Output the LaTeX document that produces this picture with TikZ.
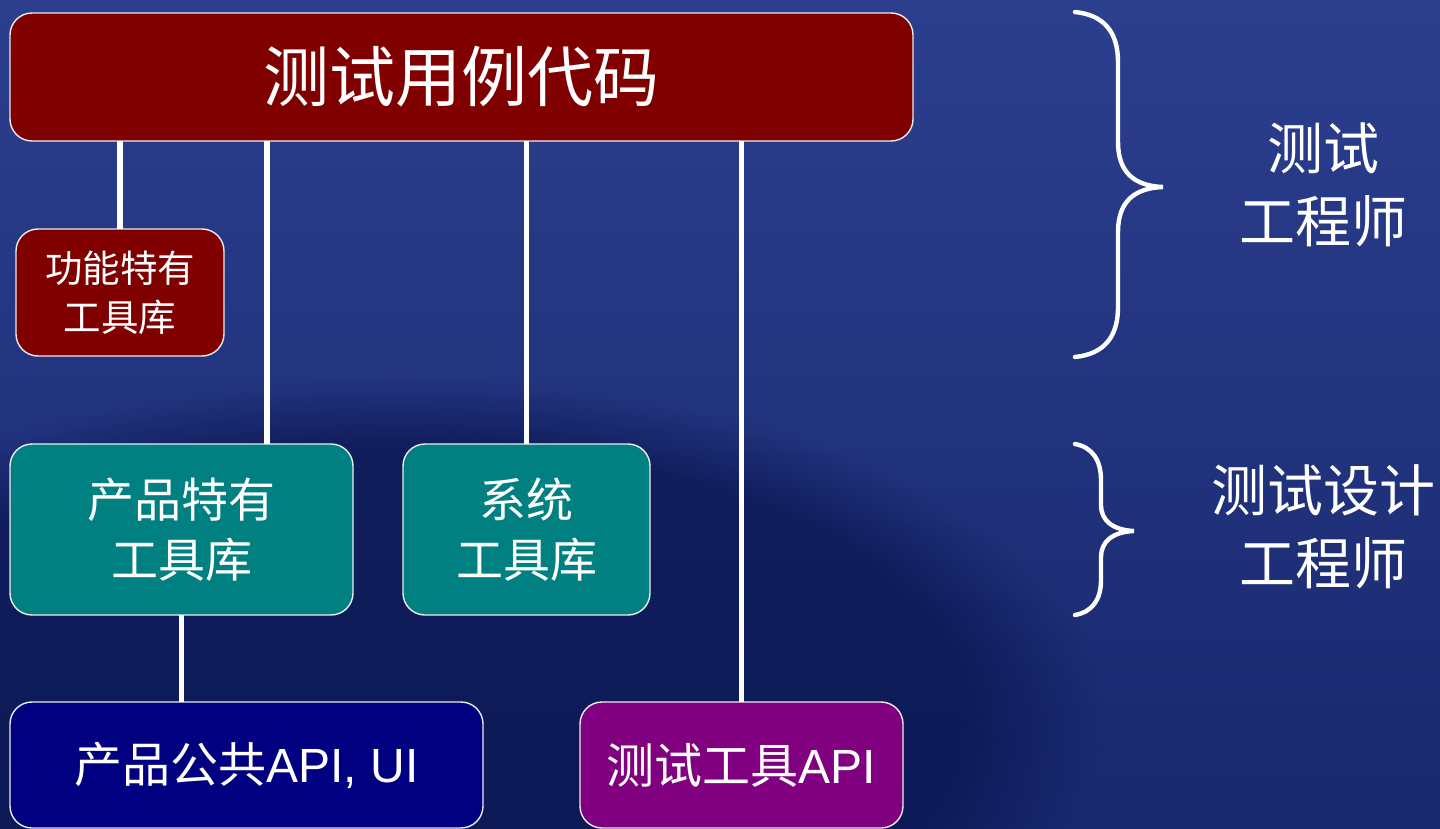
\documentclass[tikz,border=0pt]{standalone}
\usepackage{fontspec}
\setmainfont{Liberation Sans}
\newfontfamily\cjk{Noto Sans CJK SC}
\usetikzlibrary{fadings}
\definecolor{bgtop}{HTML}{2C3F8E}
\definecolor{bgbot}{HTML}{18286E}
\definecolor{bgdark}{HTML}{061048}
\definecolor{maroonbox}{HTML}{800000}
\definecolor{tealbox}{HTML}{008080}
\definecolor{navybox}{HTML}{000080}
\definecolor{purplebox}{HTML}{800080}
\newcommand{\fsz}[2]{\fontsize{#1}{#2}\selectfont}
\tikzset{
  box/.style={draw=white!85!gray, line width=0.7pt, rounded corners=11pt,
    inner sep=0pt, outer sep=0pt, text=white, align=center},
  conn/.style={draw=white, line width=2.6pt},
  bracepath/.style={draw=white, line width=2.2pt, line cap=round},
  lbl/.style={text=white, align=center, inner sep=0pt}
}
\begin{document}
\begin{tikzpicture}[x=0.5pt,y=-0.5pt]
\useasboundingbox (0,0) rectangle (1440,829);
% background
\shade[top color=bgtop, bottom color=bgbot] (0,0) rectangle (1440,829);
\fill[bgdark, opacity=0.6, path fading=circle with fuzzy edge 20 percent] (-300,380) rectangle (1100,1050);

% boxes
\node[box, fill=maroonbox, minimum width=451.5pt, minimum height=64pt,
  font=\cjk\fsz{33pt}{40pt}] (top) at (461.5,77) {测试用例代码};
\node[box, fill=maroonbox, minimum width=104pt, minimum height=63.5pt,
  font=\cjk\fsz{18.75pt}{24.5pt}] (func) at (120,292.5) {功能特有\\工具库};
\node[box, fill=tealbox, minimum width=171.5pt, minimum height=85.5pt,
  font=\cjk\fsz{23.5pt}{30pt}] (prod) at (181.5,529.5) {产品特有\\工具库};
\node[box, fill=tealbox, minimum width=123.5pt, minimum height=85.5pt,
  font=\cjk\fsz{23.5pt}{30pt}] (sys) at (526.5,529.5) {系统\\工具库};
\node[box, fill=navybox, minimum width=236.5pt, minimum height=63pt,
  font=\fsz{24pt}{30pt}] (pub) at (246.5,765) {{\cjk 产品公共}API, UI};
\node[box, fill=purplebox, minimum width=161.5pt, minimum height=63pt,
  font=\fsz{24pt}{30pt}] (tool) at (741.5,765) {{\cjk 测试工具}API};

% connectors
\coordinate (cx) at (267,0);
\draw[conn] (func.north) -- (func.north |- top.south);
\draw[conn] (prod.north -| cx) -- (top.south -| cx);
\draw[conn] (sys.north) -- (sys.north |- top.south);
\draw[conn] (tool.north) -- (tool.north |- top.south);
\draw[conn] (prod.south) -- (prod.south |- pub.north);

% braces
\draw[bracepath] (1075,12) .. controls (1104,15) and (1118,32) .. (1118,62)
  -- (1118,142) .. controls (1118,172) and (1134,186) .. (1163,187)
  .. controls (1134,188) and (1118,202) .. (1118,232)
  -- (1118,307) .. controls (1118,337) and (1104,354) .. (1075,357);
\draw[bracepath] (1075,444) .. controls (1092,447) and (1101,460) .. (1101,480)
  -- (1101,505) .. controls (1101,520) and (1112,530) .. (1134,531)
  .. controls (1112,532) and (1101,542) .. (1101,557)
  -- (1101,580) .. controls (1101,600) and (1092,612) .. (1075,615);

% labels
\node[lbl, font=\cjk\fsz{28pt}{36.5pt}] (eng1) at (1323,185) {测试\\工程师};
\node[lbl, font=\cjk\fsz{28pt}{36.5pt}] (eng2) at (1323,527) {测试设计\\工程师};
\end{tikzpicture}
\end{document}
